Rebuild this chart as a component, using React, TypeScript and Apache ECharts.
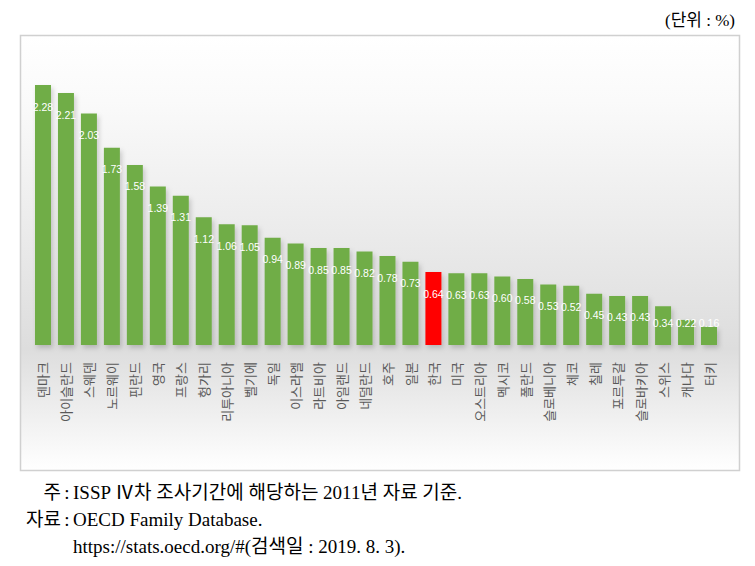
import React, { useEffect, useRef } from "react";
import * as echarts from "echarts";

const countries = [
  "덴마크", "아이슬란드", "스웨덴", "노르웨이", "핀란드", "영국", "프랑스", "헝가리", "리투아니아", "벨기에",
  "독일", "이스라엘", "라트비아", "아일랜드", "네덜란드", "호주", "일본", "한국", "미국", "오스트리아",
  "멕시코", "폴란드", "슬로베니아", "체코", "칠레", "포르투갈", "슬로바키아", "스위스", "캐나다", "터키",
];
const values = [
  2.28, 2.21, 2.03, 1.73, 1.58, 1.39, 1.31, 1.12, 1.06, 1.05,
  0.94, 0.89, 0.85, 0.85, 0.82, 0.78, 0.73, 0.64, 0.63, 0.63,
  0.6, 0.58, 0.53, 0.52, 0.45, 0.43, 0.43, 0.34, 0.22, 0.16,
];
const highlight = "한국";
const unitText = "(단위 : %)";
const noteLines = [
  { head: "주", body: "ISSP Ⅳ차 조사기간에 해당하는 2011년 자료 기준." },
  { head: "자료", body: "OECD Family Database." },
  { head: "", body: "https://stats.oecd.org/#(검색일 : 2019. 8. 3)." },
];

const GREEN = "#70ad47";
const RED = "#ff0000";
const SERIF = "'Liberation Serif', 'Noto Sans CJK KR', serif";

export default function App() {
  const ref = useRef<HTMLDivElement>(null);
  useEffect(() => {
    if (!ref.current) return;
    const chart = echarts.init(ref.current, null, { renderer: "svg" });
    const yMax = 2.5;
    const data = values.map((v, i) => {
      const item: any = { value: v };
      if (countries[i] === highlight) item.itemStyle = { color: RED };
      if (v < 0.4) item.label = { position: "insideBottom", distance: 17 };
      return item;
    });
    const footerGraphics: any[] = [];
    noteLines.forEach((ln, i) => {
      const y = 492 + i * 27;
      if (ln.head) {
        footerGraphics.push({
          type: "text", x: 61, y,
          style: { text: ln.head, font: `19px ${SERIF}`, fill: "#000", align: "right", verticalAlign: "middle" },
        });
        footerGraphics.push({
          type: "text", x: 67, y,
          style: { text: ":", font: `19px ${SERIF}`, fill: "#000", align: "center", verticalAlign: "middle" },
        });
      }
      footerGraphics.push({
        type: "text", x: 73, y,
        style: { text: ln.body, font: `19px ${SERIF}`, fill: "#000", align: "left", verticalAlign: "middle" },
      });
    });
    chart.setOption({
      animation: false,
      grid: { left: 31.5, top: 345 - 114 * yMax, width: 689, height: 114 * yMax, containLabel: false },
      xAxis: {
        type: "category",
        data: countries,
        axisLine: { show: false },
        axisTick: { show: false },
        axisLabel: {
          interval: 0,
          rotate: 90,
          margin: 17,
          color: "#595959",
          fontSize: 13,
          fontFamily: "'Noto Sans CJK KR', sans-serif",
        },
      },
      yAxis: { type: "value", min: 0, max: yMax, show: false, splitLine: { show: false } },
      series: [
        {
          type: "bar",
          data,
          barWidth: 16,
          itemStyle: {
            color: GREEN,
            shadowColor: "rgba(0,0,0,0.18)",
            shadowBlur: 5,
            shadowOffsetX: 2,
            shadowOffsetY: 3,
          },
          label: {
            show: true,
            position: "insideTop",
            distance: 16,
            color: "#ffffff",
            fontSize: 10.5,
            fontFamily: "'Liberation Sans', Arial, sans-serif",
            formatter: (p: any) => Number(p.value).toFixed(2),
          },
        },
      ],
      graphic: [
        {
          type: "rect",
          z: -10,
          silent: true,
          shape: { x: 20.5, y: 35.5, width: 719, height: 435 },
          style: {
            fill: new echarts.graphic.LinearGradient(0, 0, 0, 1, [
              { offset: 0, color: "#ffffff" },
              { offset: 0.15, color: "#fafafa" },
              { offset: 0.45, color: "#ebebeb" },
              { offset: 0.72, color: "#dddddd" },
              { offset: 1, color: "#ffffff" },
            ]),
            stroke: "#d0d0d0",
            lineWidth: 1.5,
          },
        },
        {
          type: "text", x: 735, y: 20,
          style: { text: unitText, font: `17px ${SERIF}`, fill: "#000", align: "right", verticalAlign: "middle" },
        },
        ...footerGraphics,
      ],
    });
    return () => chart.dispose();
  }, []);
  return (
    <div
      ref={ref}
      style={{ position: "fixed", left: 0, top: 0, width: 755, height: 566, background: "#fff" }}
    />
  );
}
